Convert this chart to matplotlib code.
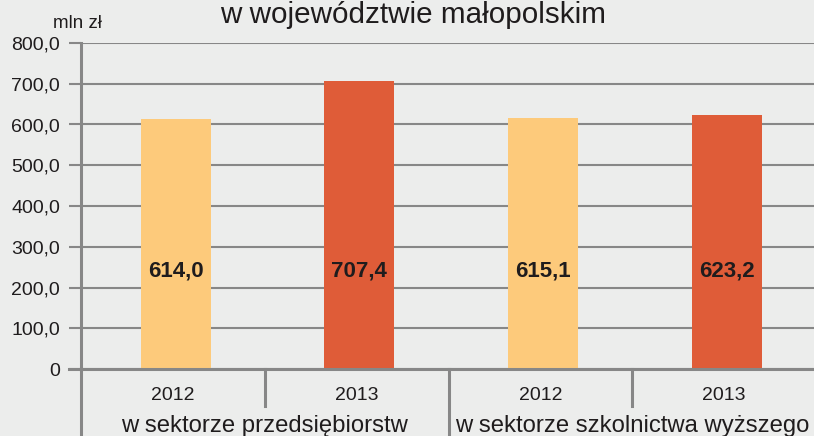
import matplotlib
matplotlib.use("Agg")
import matplotlib.pyplot as plt
import matplotlib.transforms as mtransforms

plt.rcParams['font.family'] = ['Liberation Sans', 'DejaVu Sans']

# data
years = ["2012", "2013", "2012", "2013"]
groups = ["w sektorze przedsiębiorstw", "w sektorze szkolnictwa wyższego"]
values = [614.0, 707.4, 615.1, 623.2]
value_labels = ["614,0", "707,4", "615,1", "623,2"]
yticks = [0, 100, 200, 300, 400, 500, 600, 700, 800]
ytick_labels = ["0", "100,0", "200,0", "300,0", "400,0", "500,0", "600,0", "700,0", "800,0"]
title = "w województwie małopolskim"
unit = "mln zł"

bg = "#ecedec"
light = "#fdca7b"
dark = "#df5c38"
grid = "#878787"
txt = "#1f1c1d"

W, H = 814, 436
fig = plt.figure(figsize=(W / 100, H / 100), dpi=100, facecolor=bg)
ax = fig.add_axes([81 / W, (H - 369) / H, (816 - 81) / W, 326 / H])
ax.set_facecolor(bg)

x = [i + 0.015 for i in range(len(values))]
colors = [light, dark, light, dark]
ax.bar(x, values, width=0.38, color=colors, zorder=3)

ax.set_xlim(-0.5, 3.5)
ax.set_ylim(0, 800)
ax.set_yticks(yticks)
ax.set_yticklabels(ytick_labels, fontsize=14, color=txt)
ax.tick_params(axis='y', length=8.6, width=1.5, color=grid, pad=6.5, direction='out')
ax.set_xticks([])
ax.yaxis.grid(True, color=grid, linewidth=1.5, zorder=0)
ax.set_axisbelow(True)
for s in ['top', 'right']:
    ax.spines[s].set_visible(False)
ax.spines['left'].set_color(grid)
ax.spines['left'].set_linewidth(2.2)
ax.spines['bottom'].set_color(grid)
ax.spines['bottom'].set_linewidth(2.2)
ax.spines['bottom'].set_zorder(4)

# value labels
for xi, lab in zip(x, value_labels):
    ax.text(xi, 240, lab, ha='center', va='center', fontsize=16,
            fontweight='bold', color=txt, zorder=5)

# extend zero line left to tick
trans_fig = fig.transFigure
ax.add_line(plt.Line2D([69 / W, 81 / W], [(H - 369) / H] * 2, transform=trans_fig,
                       color=grid, linewidth=2.2, clip_on=False))

# separators below axis
blend = mtransforms.blended_transform_factory(ax.transData, trans_fig)
for sx, bottom_px in [(-0.5, 436), (0.5, 406), (1.5, 436), (2.5, 406)]:
    ax.add_line(plt.Line2D([sx, sx], [(H - 369) / H, (H - bottom_px) / H],
                           transform=blend, color=grid, linewidth=2.2, clip_on=False))

# year labels
for i, yr in enumerate(years):
    ax.text(i, (H - 400) / H, yr, transform=blend, ha='center', va='baseline',
            fontsize=14, color=txt)

# group labels
for gi, g in enumerate(groups):
    ax.text(0.5 + 2 * gi, (H - 432) / H, g, transform=blend, ha='center',
            va='baseline', fontsize=17.2, color=txt)

fig.text(413 / W, (H - 23) / H, title, ha='center', va='baseline', fontsize=21.3, color=txt)
fig.text(77 / W, (H - 28) / H, unit, ha='center', va='baseline', fontsize=13.5, color=txt)

fig.savefig("out.png", dpi=100, facecolor=bg)
